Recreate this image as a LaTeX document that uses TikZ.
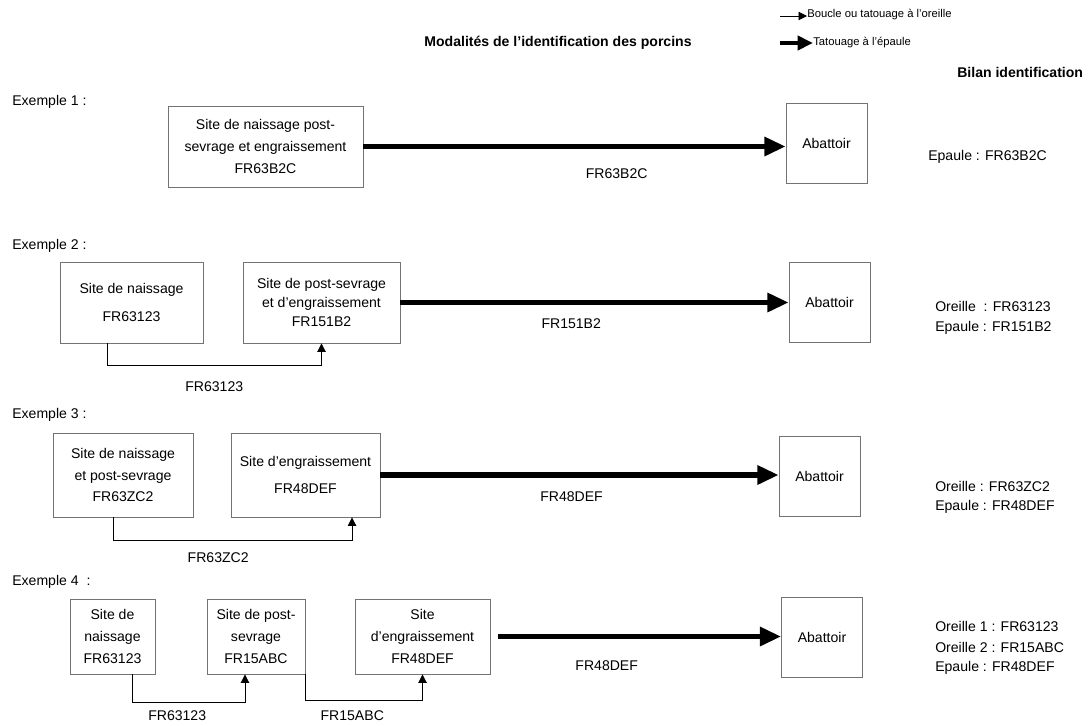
\documentclass[tikz,border=0pt]{standalone}
\usepackage{fontspec}
\setmainfont{Liberation Sans}
\usepackage{tikz}
\usetikzlibrary{arrows.meta, positioning, calc}
\tikzstyle{site} = [rectangle, draw=black!55, line width=0.6pt, align=center, inner sep=0pt, font=\fontsize{10}{15.5}\selectfont]
\tikzstyle{abattoir} = [site, minimum width=2.025cm, minimum height=2cm]
\tikzstyle{texte} = [anchor=west, inner sep=0pt, font=\fontsize{10}{12}\selectfont]
\tikzstyle{code} = [inner sep=0pt, font=\fontsize{10}{12}\selectfont]
\tikzstyle{legende} = [anchor=west, inner sep=0pt, font=\fontsize{8}{10}\selectfont]
\tikzstyle{oreille} = [-{Triangle[length=6pt,width=6pt]}, line width=0.6pt]
\tikzstyle{epaule} = [-{Triangle[length=15pt,width=13pt]}, line width=3.6pt]

\begin{document}
\begin{tikzpicture}[x=0.025cm, y=-0.025cm]
			\useasboundingbox (0,0) rectangle (1090,725);
			
			% titre et legende
			\node (titre) [code, font=\fontsize{10}{12}\selectfont\bfseries] at (558,43) {Modalités de l'identification des porcins};
			\coordinate (leg1) at (780,16);
			\coordinate (leg2) at (780,43);
			\node (legoreille) [legende] at (807,15) {Boucle ou tatouage à l'oreille};
			\node (legepaule) [legende] at (813,43) {Tatouage à l'épaule};
			\draw [oreille] (leg1) -- (legoreille.west |- leg1);
			\draw [epaule, -{Triangle[length=11pt,width=10pt]}, line width=2.8pt] (leg2) -- (legepaule.west |- leg2);
			\node (bilan) [texte, font=\fontsize{10}{12}\selectfont\bfseries] at (957,72) {Bilan identification};
			
			% exemple 1
			\node (ex1) [texte] at (12,102) {Exemple 1 :};
			\node (site11) [site, minimum width=4.875cm, minimum height=2.025cm] at (265.5,146.5) {Site de naissage post-\\sevrage et engraissement\\FR63B2C};
			\node (abat1) [abattoir] at (826.5,143) {Abattoir};
			\node (bil1) [texte] at (928,157) {Epaule : FR63B2C};
			\draw [epaule] (site11.east) -- node[code, pos=0.6, below=0.5cm] {FR63B2C} (site11.east -| abat1.west);
			
			% exemple 2
			\node (ex2) [texte] at (12,246) {Exemple 2 :};
			\node (site21) [site, minimum width=3.575cm, minimum height=2.025cm] at (131.5,302.5) {Site de naissage\\[4pt]FR63123};
			\node (site22) [site, minimum width=3.925cm, minimum height=2.025cm, font=\fontsize{10}{13.5}\selectfont] at (321.5,302.5) {Site de post-sevrage\\et d'engraissement\\FR151B2};
			\node (abat2) [abattoir] at (829.5,302) {Abattoir};
			\node (bil21) [texte] at (935,306) {Oreille~ : FR63123};
			\node (bil22) [texte] at (935,328) {Epaule : FR151B2};
			\draw [epaule] (site22.east) -- node[code, pos=0.44, below=0.35cm] {FR151B2} (site22.east -| abat2.west);
			\draw [oreille] ([xshift=-0.6125cm]site21.south) -- ++(0,22) -| node[code, pos=0.25, below=0.4cm] {FR63123} (site22.south);
			
			% exemple 3
			\node (ex3) [texte] at (12,415) {Exemple 3 :};
			\node (site31) [site, minimum width=3.5cm, minimum height=2.1cm] at (123,475) {Site de naissage\\et post-sevrage\\FR63ZC2};
			\node (site32) [site, minimum width=3.725cm, minimum height=2.1cm] at (305.5,475) {Site d'engraissement\\[4pt]FR48DEF};
			\node (abat3) [abattoir] at (819.5,476.5) {Abattoir};
			\node (bil31) [texte] at (935,486) {Oreille : FR63ZC2};
			\node (bil32) [texte] at (935,507) {Epaule : FR48DEF};
			\draw [epaule] (site32.east) -- node[code, pos=0.48, below=0.35cm] {FR48DEF} (site32.east -| abat3.west);
			\draw [oreille] ([xshift=-0.25cm]site31.south) -- ++(0,23) -| node[code, pos=0.22, below=0.3cm] {FR63ZC2} ([xshift=1.1625cm]site32.south);
			
			% exemple 4
			\node (ex4) [texte] at (12,582) {Exemple 4~ :};
			\node (site41) [site, minimum width=2.125cm, minimum height=1.875cm] at (112.5,636.5) {Site de\\naissage\\FR63123};
			\node (site42) [site, minimum width=2.45cm, minimum height=1.875cm] at (256,636.5) {Site de post-\\sevrage\\FR15ABC};
			\node (site43) [site, minimum width=3.375cm, minimum height=1.875cm] at (422.5,636.5) {Site\\d'engraissement\\FR48DEF};
			\node (abat4) [abattoir] at (822,637) {Abattoir};
			\node (bil41) [texte] at (935,626) {Oreille 1 : FR63123};
			\node (bil42) [texte] at (935,647) {Oreille 2 : FR15ABC};
			\node (bil43) [texte] at (935,668) {Epaule : FR48DEF};
			\draw [epaule, shorten <=0.2cm] (site43.east) -- node[code, pos=0.4, below=0.55cm] {FR48DEF} (site43.east -| abat4.west);
			\draw [oreille] ([xshift=0.4875cm]site41.south) -- ++(0,28) -| node[code, pos=0.2, below=0.2cm] {FR63123} ([xshift=-0.275cm]site42.south);
			\draw [oreille] (site42.south east) -- ++(0,26) -| node[code, pos=0.2, below=0.25cm] {FR15ABC} (site43.south);
\end{tikzpicture}
\end{document}
